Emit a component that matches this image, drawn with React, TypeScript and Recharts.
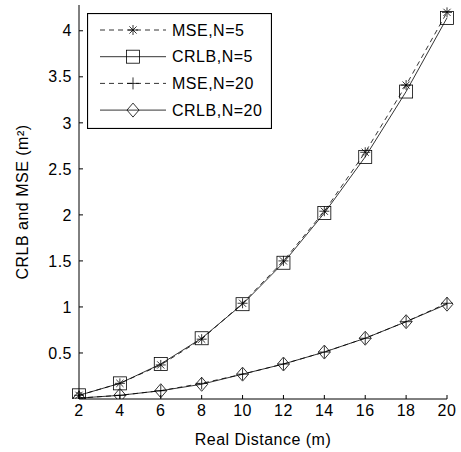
import React from "react";
import { Legend, Line, LineChart, XAxis, YAxis } from "recharts";

const distances = [2, 4, 6, 8, 10, 12, 14, 16, 18, 20];
const mseN5 = [0.04, 0.17, 0.37, 0.65, 1.04, 1.5, 2.04, 2.68, 3.41, 4.2];
const crlbN5 = [0.04, 0.17, 0.38, 0.66, 1.03, 1.48, 2.02, 2.63, 3.34, 4.14];
const mseN20 = [0.01, 0.04, 0.09, 0.17, 0.27, 0.38, 0.51, 0.66, 0.84, 1.04];
const crlbN20 = [0.01, 0.04, 0.09, 0.16, 0.27, 0.38, 0.51, 0.66, 0.84, 1.03];
const xTicks = [2, 4, 6, 8, 10, 12, 14, 16, 18, 20];
const yTicks = [0.5, 1, 1.5, 2, 2.5, 3, 3.5, 4];

const data = distances.map((d, i) => ({
  d,
  mseN5: mseN5[i],
  crlbN5: crlbN5[i],
  mseN20: mseN20[i],
  crlbN20: crlbN20[i],
}));

const FONT = "'Liberation Sans', Arial, sans-serif";
const INK = "#000";

type Kind = "star" | "square" | "plus" | "diamond";

function Marker({ kind, cx, cy }: { kind: Kind; cx: number; cy: number }) {
  const p = { stroke: INK, strokeWidth: 0.8, fill: "none" };
  if (kind === "square")
    return <rect x={cx - 6.5} y={cy - 6.5} width={13} height={13} {...p} />;
  if (kind === "diamond")
    return <path d={`M${cx},${cy - 7}L${cx + 6},${cy}L${cx},${cy + 7}L${cx - 6},${cy}Z`} {...p} />;
  if (kind === "plus")
    return <path d={`M${cx - 6},${cy}H${cx + 6}M${cx},${cy - 6}V${cy + 6}`} {...p} />;
  // asterisk: plus + cross
  return (
    <path
      d={`M${cx - 5},${cy}H${cx + 5}M${cx},${cy - 5}V${cy + 5}M${cx - 3.6},${cy - 3.6}L${cx + 3.6},${cy + 3.6}M${cx - 3.6},${cy + 3.6}L${cx + 3.6},${cy - 3.6}`}
      {...p}
    />
  );
}

const dot = (kind: Kind) => (props: any) =>
  <Marker key={`${kind}-${props.index}`} kind={kind} cx={props.cx} cy={props.cy} />;

const legendItems: { name: string; kind: Kind; dashed: boolean }[] = [
  { name: "MSE,N=5", kind: "star", dashed: true },
  { name: "CRLB,N=5", kind: "square", dashed: false },
  { name: "MSE,N=20", kind: "plus", dashed: true },
  { name: "CRLB,N=20", kind: "diamond", dashed: false },
];

const textStyle = { fontFamily: FONT, fontSize: 16, fill: INK, letterSpacing: 0.5 };

function BoxLegend() {
  return (
    <svg width={185} height={116} style={{ display: "block" }}>
      <rect x={0.5} y={0.5} width={184} height={115} fill="#fff" stroke={INK} strokeWidth={1.2} />
      {legendItems.map((it, i) => {
        const y = 17 + i * 26.7;
        return (
          <g key={it.name}>
            <line
              x1={13}
              x2={79}
              y1={y}
              y2={y}
              stroke={INK}
              strokeWidth={0.8}
              strokeDasharray={it.dashed ? "5 4" : undefined}
            />
            <Marker kind={it.kind} cx={46} cy={y} />
            <text x={85} y={y + 5.5} style={textStyle}>
              {it.name}
            </text>
          </g>
        );
      })}
    </svg>
  );
}

export default function App() {
  return (
    <div style={{ position: "absolute", left: 0, top: 0, background: "#fff" }}>
      <LineChart
        width={461}
        height={452}
        data={data}
        margin={{ top: 5, right: 14, bottom: 0, left: 0 }}
      >
        <XAxis
          xAxisId="b"
          dataKey="d"
          type="number"
          domain={[2, 20]}
          ticks={xTicks}
          tickSize={-4}
          tickMargin={10}
          height={53}
          tick={textStyle}
          stroke={INK}
          label={{ value: "Real Distance (m)", position: "insideBottom", offset: 7, style: textStyle }}
        />
        <XAxis
          xAxisId="t"
          dataKey="d"
          type="number"
          orientation="top"
          domain={[2, 20]}
          ticks={xTicks}
          tickSize={-4}
          height={0}
          tick={false}
          stroke={INK}
        />
        <YAxis
          yAxisId="l"
          type="number"
          domain={[0, 4.28]}
          ticks={yTicks}
          tickSize={-4}
          tickMargin={11}
          width={79}
          tick={textStyle}
          stroke={INK}
          allowDataOverflow
          label={{
            value: "CRLB and MSE (m\u00B2)",
            angle: -90,
            position: "insideLeft",
            offset: 22,
            style: { ...textStyle, textAnchor: "middle" },
          }}
        />
        <YAxis
          yAxisId="r"
          orientation="right"
          type="number"
          domain={[0, 4.28]}
          ticks={yTicks}
          tickSize={-4}
          width={0}
          tick={false}
          stroke={INK}
        />
        <Line
          xAxisId="b"
          yAxisId="l"
          dataKey="mseN5"
          stroke={INK}
          strokeWidth={0.8}
          strokeDasharray="5 4"
          dot={dot("star")}
          isAnimationActive={false}
        />
        <Line
          xAxisId="b"
          yAxisId="l"
          dataKey="crlbN5"
          stroke={INK}
          strokeWidth={0.8}
          dot={dot("square")}
          isAnimationActive={false}
        />
        <Line
          xAxisId="b"
          yAxisId="l"
          dataKey="mseN20"
          stroke={INK}
          strokeWidth={0.8}
          strokeDasharray="5 4"
          dot={dot("plus")}
          isAnimationActive={false}
        />
        <Line
          xAxisId="b"
          yAxisId="l"
          dataKey="crlbN20"
          stroke={INK}
          strokeWidth={0.8}
          dot={dot("diamond")}
          isAnimationActive={false}
        />
        <Legend
          layout="vertical"
          align="center"
          verticalAlign="middle"
          content={() => <BoxLegend />}
          wrapperStyle={{ left: 87, top: 13, width: 185, height: 116 }}
        />
      </LineChart>
    </div>
  );
}
